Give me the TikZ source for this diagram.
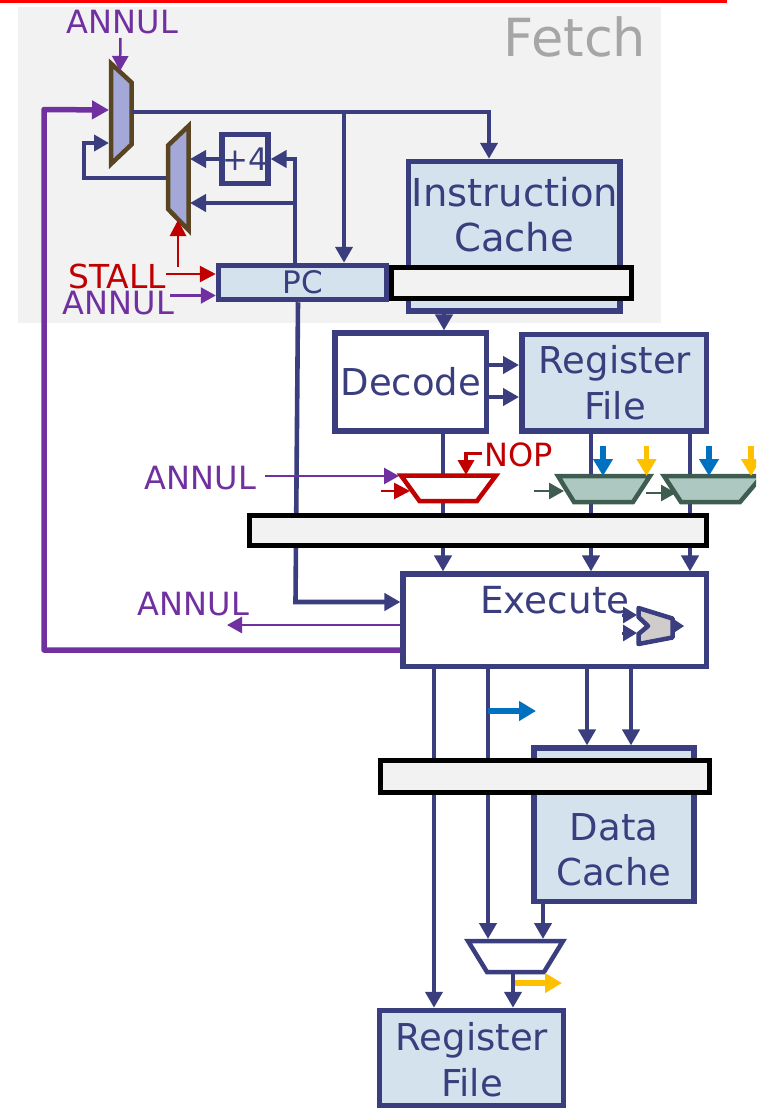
\documentclass[tikz,border=0pt]{standalone}
\usepackage{fontspec}
\setmainfont{DejaVu Sans}
\usetikzlibrary{arrows.meta}
\definecolor{navy}{HTML}{3A3E7E}
\definecolor{purp}{HTML}{7030A0}
\definecolor{redc}{HTML}{C00000}
\definecolor{bluec}{HTML}{0070C0}
\definecolor{orangec}{HTML}{FFC000}
\definecolor{greenc}{HTML}{3E5C50}
\definecolor{greenf}{HTML}{ADC8C0}
\definecolor{muxf}{HTML}{A4A8D8}
\definecolor{brownc}{HTML}{5A4522}
\definecolor{cachef}{HTML}{D4E2EE}
\definecolor{pipef}{HTML}{F2F2F2}
\definecolor{alufill}{HTML}{D0CCCC}
\pgfdeclarelayer{under}
\pgfdeclarelayer{wirelayer}
\pgfsetlayers{under,wirelayer,main}
\newcommand{\fs}[1]{\fontsize{#1}{#1}\selectfont}
\tikzset{
  x=1pt,y=-1pt,
  box/.style={draw=navy,line width=5.5pt,inner sep=0pt,text=navy,align=center},
  bluebox/.style={box,fill=cachef},
  whitebox/.style={box,fill=white},
  pipereg/.style={draw=black,line width=5.5pt,fill=pipef,inner sep=0pt},
  lbl/.style={inner sep=0pt,text=navy,align=center},
  sig/.style={inner sep=0pt,font=\fs{32}},
  wire/.style={draw=navy,line width=4.6pt},
  tipL/.style={-{Triangle[length=16pt,width=17pt]}},
  tipS/.style={-{Triangle[length=15pt,width=16pt]}},
  wirea/.style={wire,tipL},
  thinp/.style={draw=purp,line width=2.5pt,-{Triangle[length=15pt,width=16pt]}},
  thinr/.style={draw=redc,line width=2.8pt,-{Triangle[length=16pt,width=16pt]}},
  thing/.style={draw=greenc,line width=2.8pt,-{Triangle[length=15pt,width=16pt]}},
  blueb/.style={draw=bluec,line width=5.5pt,-{Triangle[length=17pt,width=19pt]}},
  orangeb/.style={draw=orangec,line width=5.5pt,-{Triangle[length=17pt,width=19pt]}},
  pcmux/.style={draw=brownc,line width=4.5pt,fill=muxf,miter limit=4},
  redmux/.style={draw=redc,line width=4.5pt,fill=white},
  greenmux/.style={draw=greenc,line width=4.5pt,fill=greenf},
  navymux/.style={draw=navy,line width=4.5pt,fill=white},
  alushape/.style={draw=navy,line width=4.5pt,fill=alufill,line join=round},
}
\begin{document}
\begin{tikzpicture}
\useasboundingbox (0,0) rectangle (756,1108);
\clip (0,0) rectangle (756,1108);
\begin{pgfonlayer}{under}
  \fill[pipef] (18,7) rectangle (661,323);
  \fill[red] (0,0) rectangle (727,3);
\end{pgfonlayer}

\node[sig,text=black!35,font=\fs{52.5}] (fetch) at (575,37) {Fetch};

% boxes
\node[bluebox,minimum width=211.5pt,minimum height=149.5pt] (icache) at (514.25,236.25) {};
\node[lbl,font=\fs{38.5}] (icachetxt1) at (515,192) {Instruction};
\node[lbl,font=\fs{38.5}] (icachetxt2) at (514,237) {Cache};
\node[bluebox,minimum width=168pt,minimum height=34pt,font=\fs{31}] (pc) at (302.5,282.5) {PC};
\node[pipereg,minimum width=240pt,minimum height=31pt] (pipeA) at (511.5,283) {};
\node[box,minimum width=45pt,minimum height=49pt,font=\fs{31}] (plusfour) at (245,159) {+4};
\node[whitebox,minimum width=151.3pt,minimum height=98pt,font=\fs{37}] (decode) at (410.85,382.2) {Decode};
\node[bluebox,minimum width=184.7pt,minimum height=96.7pt] (rfA) at (614.15,382.85) {};
\node[lbl,font=\fs{37}] (rfAt1) at (615,363) {Register};
\node[lbl,font=\fs{37}] (rfAt2) at (615,406) {File};
\node[pipereg,minimum width=457pt,minimum height=30pt] (pipeB) at (478,530.5) {};
\node[whitebox,minimum width=303.3pt,minimum height=92.3pt] (exec) at (554.85,620.35) {};
\node[lbl,font=\fs{37.3}] (exect) at (555,600) {Execute};
\node[bluebox,minimum width=160pt,minimum height=153.3pt] (dcache) at (614.2,824.85) {};
\node[lbl,font=\fs{37}] (dct1) at (614,827) {Data};
\node[lbl,font=\fs{37}] (dct2) at (614,872) {Cache};
\node[pipereg,minimum width=329pt,minimum height=32pt] (pipeC) at (545,776.5) {};
\node[bluebox,minimum width=184pt,minimum height=95pt] (rfB) at (471.5,1058) {};
\node[lbl,font=\fs{37}] (rfBt1) at (472,1040) {Register};
\node[lbl,font=\fs{37}] (rfBt2) at (472,1083) {File};

% muxes
\draw[pcmux] (111,63.5) -- (131.5,82.5) -- (131.5,144.5) -- (111,164) -- cycle;
\coordinate (muxAtop) at (120,71);
\coordinate (muxAinA) at (109,110);
\coordinate (muxAinB) at (109,143);
\coordinate (muxAout) at (132,112);
\draw[pcmux] (168,145.5) -- (188.5,126) -- (188.5,230) -- (168,209) -- cycle;
\coordinate (muxBinA) at (190,159);
\coordinate (muxBinB) at (190,203);
\coordinate (muxBout) at (166,178);
\coordinate (muxBbot) at (178,220);

\draw[redmux] (401,475.5) -- (496,475.5) -- (477,501) -- (419.5,501) -- cycle;
\coordinate (redtop) at (466,475);
\coordinate (redinA) at (399,476);
\coordinate (redinB) at (410,491);
\draw[greenmux] (558,476) -- (650,476) -- (633,502) -- (574,502) -- cycle;
\draw[greenmux] (664,476) -- (762,476) -- (740,502) -- (681,502) -- cycle;
\coordinate (grinA) at (564,491);
\coordinate (grinB) at (676,493);
\draw[navymux] (468,941) -- (563,941) -- (544,972) -- (487,972) -- cycle;
\coordinate (lowinA) at (488,939);
\coordinate (lowinB) at (543,939);
\coordinate (lowout) at (513,974);

% ALU
\draw[alushape] (638.5,608) -- (672.5,618.5) -- (672.5,637.5) -- (638.5,644) -- (638.5,634) -- (648,626) -- (638.5,617) -- cycle;
\coordinate (aluA) at (637,615);
\coordinate (aluB) at (637,633);
\coordinate (aluout) at (673,626);

% pass-under wires
\begin{pgfonlayer}{wirelayer}
  \draw[wirea] (443,0 |- decode.south) -- (443,0 |- exec.north);
  \draw[wirea] (591,0 |- rfA.south) -- (591,0 |- exec.north);
  \draw[wirea] (690,0 |- rfA.south) -- (690,0 |- exec.north);
  \draw[wirea] (298,0 |- pc.south) -- (295.5,602) -- (0,602 -| exec.west);
  \draw[wirea] (434,0 |- exec.south) -- (434,0 |- rfB.north);
  \draw[wirea] (488,0 |- exec.south) -- (lowinA);
  \draw[wirea] (587,0 |- exec.south) -- (587,0 |- dcache.north);
  \draw[wirea] (631,0 |- exec.south) -- (631,0 |- dcache.north);
  \draw[wirea] (543,0 |- dcache.south) -- (lowinB);
  \draw[wirea] (444,0 |- icache.south) -- (444,0 |- decode.north);
\end{pgfonlayer}

% wires on top
\draw[wirea] (muxAout) -- (489,112) -- (489,0 |- icache.north);
\draw[wirea] (344,112) -- (344,0 |- pc.north);
\draw[wirea] (plusfour.west |- muxBinA) -- (muxBinA);
\draw[wirea] (295,0 |- pc.north) -- (295,159) -- (plusfour.east);
\draw[wirea] (295,203) -- (muxBinB);
\draw[wire,tipS] (muxBout) -- (84,178) -- (84,143) -- (muxAinB);
\draw[wirea] (decode.east |- 0,365) -- (rfA.west |- 0,365);
\draw[wirea] (decode.east |- 0,397) -- (rfA.west |- 0,397);
\draw[wirea] (lowout) -- (513,0 |- rfB.north);
\draw[navy,line width=3pt,-{Triangle[length=14pt,width=16pt]}] (622,615) -- (aluA);
\draw[navy,line width=3pt,-{Triangle[length=14pt,width=16pt]}] (622,633) -- (aluB);
\fill[navy] (672,618) -- (684,626) -- (672,634) -- cycle;

% signals
\node[sig,text=purp] (annA) at (122.5,22) {ANNUL};
\node[sig,text=redc,font=\fs{33}] (stall) at (117,276) {STALL};
\node[sig,text=purp] (annB) at (118.5,303.5) {ANNUL};
\node[sig,text=purp] (annC) at (200.5,478) {ANNUL};
\node[sig,text=purp] (annD) at (193.5,604) {ANNUL};
\node[sig,text=redc,font=\fs{32}] (nop) at (518.5,455) {NOP};

\draw[thinp] (120.5,38) -- (muxAtop);
\draw[thinr] (178,267) -- (muxBbot);
\draw[thinr] (166,274) -- (pc.west |- 0,274);
\draw[thinp] (170,295.5) -- (pc.west |- 0,295.5);
\draw[draw=purp,line width=5.5pt,line join=round,-{Triangle[length=17pt,width=18pt]}] (exec.west |- 0,650) -- (44,650) -- (44,109.5) -- (muxAinA);
\draw[thinp] (265,476) -- (redinA);
\draw[thinr] (381,491) -- (redinB);
\draw[draw=redc,line width=3.5pt,-{Triangle[length=15pt,width=16pt]}] (482,453.5) -- (466,453.5) -- (redtop);
\draw[thing] (534,491) -- (grinA);
\draw[thing] (646,493) -- (grinB);
\draw[blueb] (603,446) -- (603,476);
\draw[orangeb] (646.5,446) -- (646.5,476);
\draw[blueb] (709,446) -- (709,476);
\draw[orangeb] (751,446) -- (751,476);
\draw[thinp] (exec.west |- 0,625) -- (227,625);
\draw[blueb] (488,711) -- (536,711);
\draw[orangeb] (515,983) -- (562,983);
\end{tikzpicture}
\end{document}
